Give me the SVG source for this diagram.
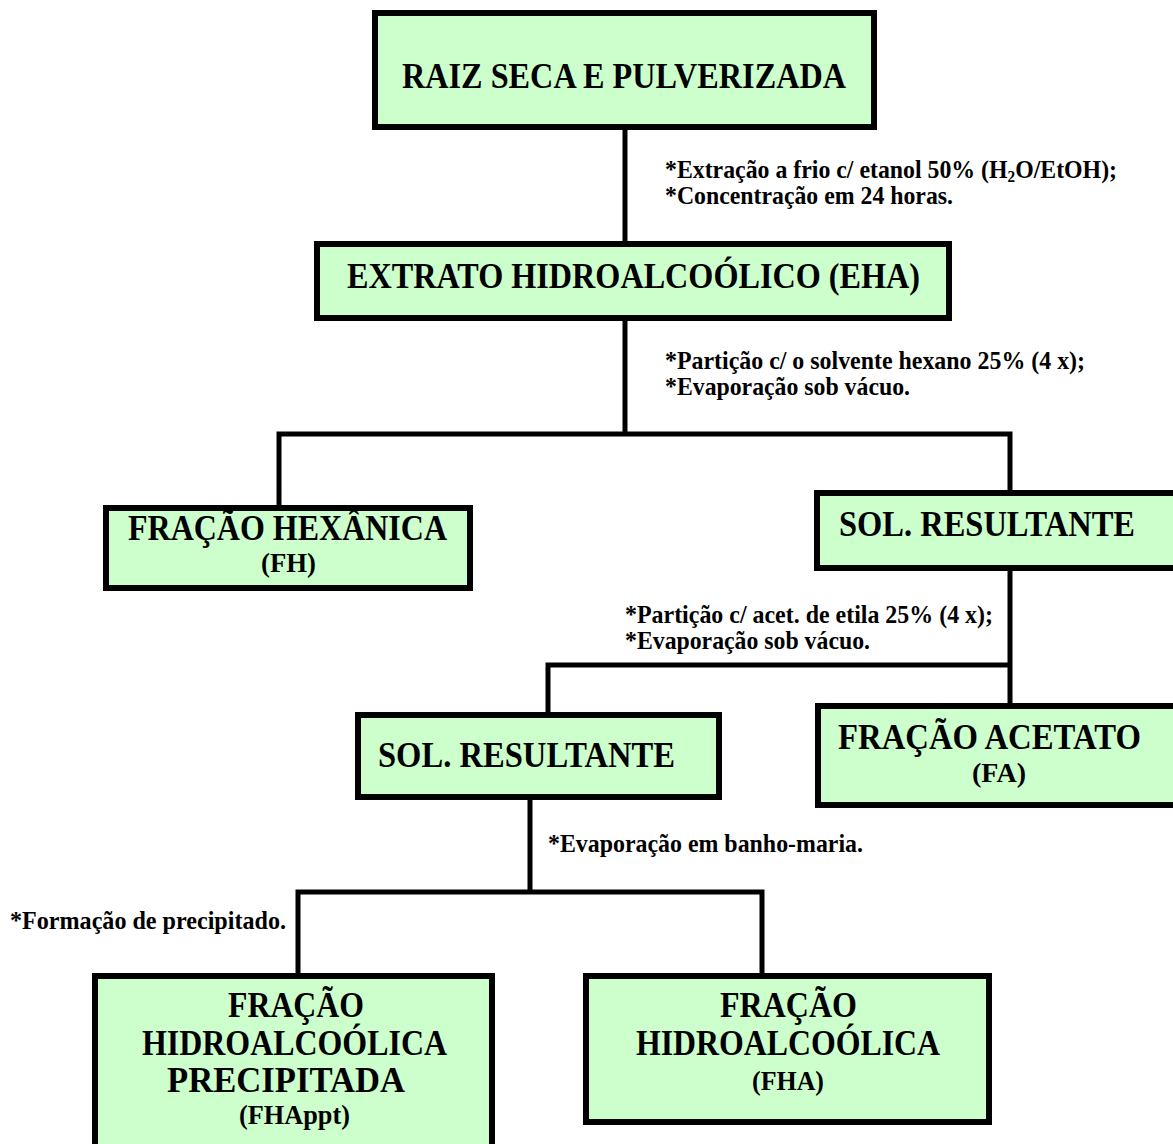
<svg xmlns="http://www.w3.org/2000/svg" width="1173" height="1144" viewBox="0 0 1173 1144">
<style>
.box{fill:#CCFFCC;stroke:#000;stroke-width:6}
.t{font-family:"Liberation Serif","Times New Roman",serif;font-weight:bold;font-size:35px;fill:#000;text-anchor:middle}
.p{font-size:28px}
.s{font-family:"Liberation Serif","Times New Roman",serif;font-weight:bold;font-size:25px;fill:#000}
.c{fill:none;stroke:#000;stroke-width:5}
</style>
<rect width="1173" height="1144" fill="#fff"/>
<g id="connectors">
<path class="c" d="M625 130 V241"/>
<path class="c" d="M625 321 V434"/>
<path class="c" d="M279 505 V434 H1010 V490"/>
<path class="c" d="M1010 571 V703"/>
<path class="c" d="M548 712 V665 H1010"/>
<path class="c" d="M530 800 V892"/>
<path class="c" d="M298 973 V892 H762 V973"/>
</g>
<g id="labels">
<text class="s" x="665" y="178" textLength="452" lengthAdjust="spacingAndGlyphs">*Extração a frio c/ etanol 50% (H<tspan font-size="16" dy="4">2</tspan><tspan dy="-4">O/EtOH);</tspan></text>
<text class="s" x="665" y="204" textLength="288" lengthAdjust="spacingAndGlyphs">*Concentração em 24 horas.</text>
<text class="s" x="665" y="369" textLength="420" lengthAdjust="spacingAndGlyphs">*Partição c/ o solvente hexano 25% (4 x);</text>
<text class="s" x="665" y="395" textLength="245" lengthAdjust="spacingAndGlyphs">*Evaporação sob vácuo.</text>
<text class="s" x="625" y="623" textLength="368" lengthAdjust="spacingAndGlyphs">*Partição c/ acet. de etila 25% (4 x);</text>
<text class="s" x="625" y="649" textLength="245" lengthAdjust="spacingAndGlyphs">*Evaporação sob vácuo.</text>
<text class="s" x="548" y="852" textLength="315" lengthAdjust="spacingAndGlyphs">*Evaporação em banho-maria.</text>
<text class="s" x="10" y="929" textLength="276" lengthAdjust="spacingAndGlyphs">*Formação de precipitado.</text>
</g>
<g id="raiz">
<rect class="box" x="375" y="13" width="499" height="114"/>
<text class="t" x="624" y="88" textLength="444" lengthAdjust="spacingAndGlyphs">RAIZ SECA E PULVERIZADA</text>
</g>
<g id="eha">
<rect class="box" x="317" y="244" width="632" height="74"/>
<text class="t" x="633.5" y="288" textLength="573" lengthAdjust="spacingAndGlyphs">EXTRATO HIDROALCOÓLICO (EHA)</text>
</g>
<g id="fh">
<rect class="box" x="106" y="508" width="364" height="80"/>
<text class="t" x="287.5" y="540" textLength="319" lengthAdjust="spacingAndGlyphs">FRAÇÃO HEXÂNICA</text>
<text class="t p" x="288.5" y="572" textLength="55" lengthAdjust="spacingAndGlyphs">(FH)</text>
</g>
<g id="sol1">
<rect class="box" x="817" y="493" width="370" height="75"/>
<text class="t" x="987" y="536" textLength="296" lengthAdjust="spacingAndGlyphs">SOL. RESULTANTE</text>
</g>
<g id="sol2">
<rect class="box" x="358" y="715" width="361" height="82"/>
<text class="t" x="526.5" y="767" textLength="297" lengthAdjust="spacingAndGlyphs">SOL. RESULTANTE</text>
</g>
<g id="fa">
<rect class="box" x="818" y="706" width="370" height="99"/>
<text class="t" x="989.5" y="749" textLength="303" lengthAdjust="spacingAndGlyphs">FRAÇÃO ACETATO</text>
<text class="t p" x="999" y="782" textLength="54" lengthAdjust="spacingAndGlyphs">(FA)</text>
</g>
<g id="fhappt">
<rect class="box" x="95" y="976" width="397" height="180"/>
<text class="t" x="296" y="1017" textLength="136" lengthAdjust="spacingAndGlyphs">FRAÇÃO</text>
<text class="t" x="294.5" y="1055" textLength="305" lengthAdjust="spacingAndGlyphs">HIDROALCOÓLICA</text>
<text class="t" x="286" y="1092" textLength="238" lengthAdjust="spacingAndGlyphs">PRECIPITADA</text>
<text class="t p" x="294.5" y="1124" textLength="111" lengthAdjust="spacingAndGlyphs">(FHAppt)</text>
</g>
<g id="fha">
<rect class="box" x="586" y="976" width="403" height="146"/>
<text class="t" x="788.5" y="1017" textLength="137" lengthAdjust="spacingAndGlyphs">FRAÇÃO</text>
<text class="t" x="788" y="1055" textLength="304" lengthAdjust="spacingAndGlyphs">HIDROALCOÓLICA</text>
<text class="t p" x="788" y="1090" textLength="72" lengthAdjust="spacingAndGlyphs">(FHA)</text>
</g>
</svg>
